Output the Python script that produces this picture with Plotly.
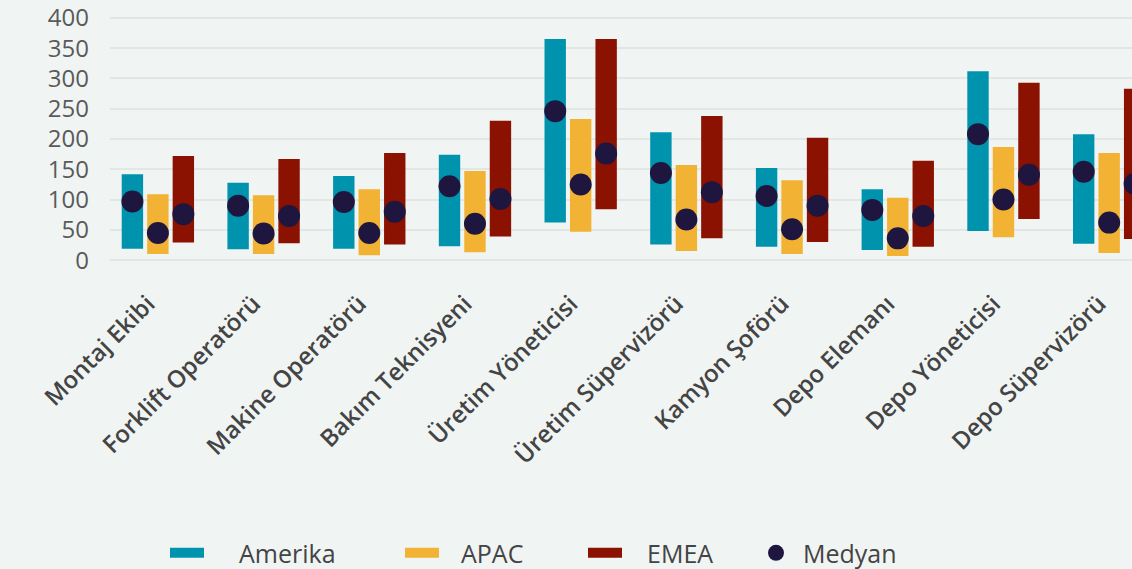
import plotly.graph_objects as go

categories = ["Montaj Ekibi", "Forklift Operatörü", "Makine Operatörü", "Bakım Teknisyeni",
              "Üretim Yöneticisi", "Üretim Süpervizörü", "Kamyon Şoförü", "Depo Elemanı",
              "Depo Yöneticisi", "Depo Süpervizörü"]

amerika_low = [19, 18, 19, 23, 62, 26, 22, 17, 48, 27]
amerika_high = [142, 128, 139, 174, 365, 211, 152, 117, 312, 208]
amerika_median = [97, 90, 96, 122, 246, 144, 106, 83, 208, 146]

apac_low = [10, 10, 8, 13, 47, 15, 10, 7, 38, 12]
apac_high = [109, 107, 117, 147, 233, 157, 132, 103, 187, 177]
apac_median = [45, 44, 45, 60, 125, 67, 51, 36, 100, 62]

emea_low = [29, 28, 26, 39, 84, 36, 30, 22, 68, 35]
emea_high = [172, 167, 177, 230, 365, 238, 202, 164, 293, 283]
emea_median = [76, 73, 80, 101, 176, 112, 90, 73, 141, 126]

y_ticks = [0, 50, 100, 150, 200, 250, 300, 350, 400]

regions = [
    ("Amerika", amerika_low, amerika_high, amerika_median, "#0093ad", "A", "legend"),
    ("APAC", apac_low, apac_high, apac_median, "#f2b233", "B", "legend2"),
    ("EMEA", emea_low, emea_high, emea_median, "#8b1100", "C", "legend3"),
]
dot_color = "#1e163e"
font_family = "Open Sans"

fig = go.Figure()

for name, low, high, med, color, grp, lg in regions:
    fig.add_trace(go.Bar(
        x=categories, y=[h - l for h, l in zip(high, low)], base=low,
        name=name, offsetgroup=grp, alignmentgroup="g",
        marker=dict(color=color, line=dict(width=0)),
        showlegend=False, hoverinfo="skip",
    ))

for name, low, high, med, color, grp, lg in regions:
    fig.add_trace(go.Scatter(
        x=categories, y=med, mode="markers", name="Medyan",
        offsetgroup=grp, alignmentgroup="g", orientation="v",
        marker=dict(color=dot_color, size=22, line=dict(width=0)),
        showlegend=False, hoverinfo="skip",
    ))

# legend-only entries
for name, low, high, med, color, grp, lg in regions:
    fig.add_trace(go.Scatter(
        x=[None], y=[None], mode="lines", name=name,
        line=dict(color=color, width=10, dash="34px,200px"),
        xaxis="x2", yaxis="y2", showlegend=True, legend=lg,
    ))
fig.add_trace(go.Scatter(
    x=[None], y=[None], mode="markers", name="Medyan",
    marker=dict(color=dot_color, size=16),
    xaxis="x2", yaxis="y2", showlegend=True, legend="legend4",
))

def legend_box(xpos, itemwidth):
    return dict(
        orientation="h", xref="container", yref="container",
        x=xpos, xanchor="left", y=0.028, yanchor="middle",
        font=dict(family=font_family, size=25, color="#444444"),
        bgcolor="rgba(0,0,0,0)", itemwidth=itemwidth,
    )

fig.update_layout(
    width=1132, height=569, autosize=False,
    margin=dict(l=110, r=0, t=16, b=307, pad=0),
    paper_bgcolor="#f0f5f4", plot_bgcolor="#f0f5f4",
    barmode="group", bargap=0.277, bargroupgap=0.16,
    scattermode="group", scattergap=0.277,
    font=dict(family=font_family, color="#555555"),
    xaxis=dict(
        type="category", range=[-0.453, 9.216], tickangle=-45,
        showgrid=False, zeroline=False, showline=False, ticks="",
        tickfont=dict(family=font_family, size=24, color="#444444", weight=600),
        ticklabelstandoff=22, ticklabelshift=-10,
    ),
    yaxis=dict(
        range=[-3, 403], tickvals=y_ticks, showgrid=True,
        gridcolor="#e2e6e5", gridwidth=2, zeroline=False, showline=False,
        tickfont=dict(family=font_family, size=24, color="#5a5a5a"),
        ticklabelstandoff=20,
    ),
    xaxis2=dict(overlaying="x", visible=False),
    yaxis2=dict(overlaying="y", visible=False),
    legend=legend_box(165 / 1132, 64),
    legend2=legend_box(400 / 1132, 51),
    legend3=legend_box(583 / 1132, 54),
    legend4=legend_box(749 / 1132, 44),
    showlegend=True,
)

fig.write_html("out.html")
